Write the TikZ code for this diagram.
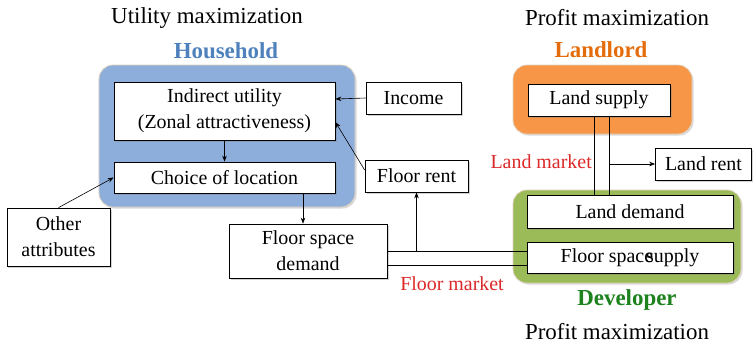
\documentclass[tikz,border=0pt]{standalone}
\usepackage{fontspec}
\setmainfont{Liberation Serif}
\usetikzlibrary{arrows.meta,shadows}
\definecolor{hhfill}{RGB}{141,174,219}
\definecolor{hhtext}{RGB}{79,129,189}
\definecolor{llfill}{RGB}{246,150,70}
\definecolor{lltext}{RGB}{228,108,10}
\definecolor{dvfill}{RGB}{155,187,89}
\definecolor{dvtext}{RGB}{30,130,30}
\definecolor{mktred}{RGB}{220,40,40}
\definecolor{rim}{RGB}{225,210,190}
\tikzset{
  agent/.style={draw=rim, line width=0.8bp, rounded corners=14bp,
    drop shadow={shadow xshift=1.5bp, shadow yshift=-1.5bp, opacity=0.3}},
  item/.style={draw=black, line width=0.7bp, fill=white, inner sep=1bp,
    align=center, font=\fontsize{20}{26}\selectfont,
    drop shadow={shadow xshift=1.5bp, shadow yshift=-1.5bp, opacity=0.35}},
  title/.style={font=\fontsize{23}{26}\selectfont},
  agentname/.style={font=\fontsize{23}{26}\selectfont\bfseries},
  market/.style={text=mktred, font=\fontsize{20}{24}\selectfont, inner sep=0pt},
  link/.style={line width=0.6bp},
  flow/.style={line width=0.6bp, -{Stealth[length=6bp,width=4.5bp]}}
}
\begin{document}
\begin{tikzpicture}[x=1bp, y=-1bp]
\useasboundingbox (0,0) rectangle (753,345);

% agents
\node[agent, fill=hhfill, minimum width=256bp, minimum height=142bp] (hh) at (227,136) {};
\node[agent, fill=llfill, minimum width=179bp, minimum height=69bp] (ll) at (602.5,99.5) {};
\node[agent, fill=dvfill, minimum width=228bp, minimum height=93bp] (dv) at (627,236.5) {};

% headings
\node[title] (ut) at (207,18) {Utility maximization};
\node[title] (pt) at (617,18) {Profit maximization};
\node[title] (pb) at (617,332) {Profit maximization};
\node[agentname, text=hhtext] (hhn) at (226,51) {Household};
\node[agentname, text=lltext] (lln) at (601,50) {Landlord};
\node[agentname, text=dvtext] (dvn) at (627,300) {Developer};

% household side
\node[item, minimum width=221bp, minimum height=58bp] (iu) at (224.5,111) {Indirect utility\\(Zonal attractiveness)};
\node[item, minimum width=221bp, minimum height=31bp] (ch) at (224.5,177.5) {Choice of location};
\node[item, minimum width=103bp, minimum height=58bp] (oa) at (58.5,237) {Other\\attributes};
\node[item, minimum width=158bp, minimum height=54bp] (fsd) at (308,251) {Floor space\\demand};
\node[item, minimum width=95bp, minimum height=32bp] (inc) at (413.5,98) {Income};
\node[item, minimum width=103bp, minimum height=32bp] (fr) at (416.5,176) {Floor rent};

% supply side
\node[item, minimum width=142bp, minimum height=32bp] (ls) at (599,100) {Land supply};
\node[item, minimum width=206bp, minimum height=33bp] (ld) at (630,211.5) {Land demand};
\node[item, minimum width=206bp, minimum height=31bp] (fss) at (630,257.5) {Floor space\kern-7bp supply};
\node[item, minimum width=96bp, minimum height=32bp] (lr) at (703.5,164) {Land rent};

% market labels
\node[market, anchor=east] (lm) at (592,162) {Land market};
\node[market] (fm) at (452,284) {Floor market};

% household flows
\draw[flow] (iu.south) -- (ch.north);
\draw[flow] (oa.north) -- (ch.west);
\draw[flow] (inc.west) -- ([yshift=12bp]iu.east);
\draw[flow] ([yshift=6bp]fr.west) -- ([yshift=-11bp]iu.east);
\draw[flow] ([xshift=-5bp]ch.south -| fsd.north) -- ([xshift=-5bp]fsd.north);

% floor market
\draw[link] (fsd.east) -- (fsd.east -| fss.west);
\draw[link] ([yshift=-14bp]fsd.east) -- ([yshift=-14bp]fsd.east -| fss.west);
\draw[flow] (fr.south |- fsd.east) -- (fr.south);

% land market
\draw[link] ([xshift=-5bp]ls.south) -- ([xshift=-5bp]ls.south |- ld.north);
\draw[link] ([xshift=10bp]ls.south) -- ([xshift=10bp]ls.south |- ld.north);
\draw[flow] ([xshift=10bp]ls.south |- lr.west) -- (lr.west);
\end{tikzpicture}
\end{document}
